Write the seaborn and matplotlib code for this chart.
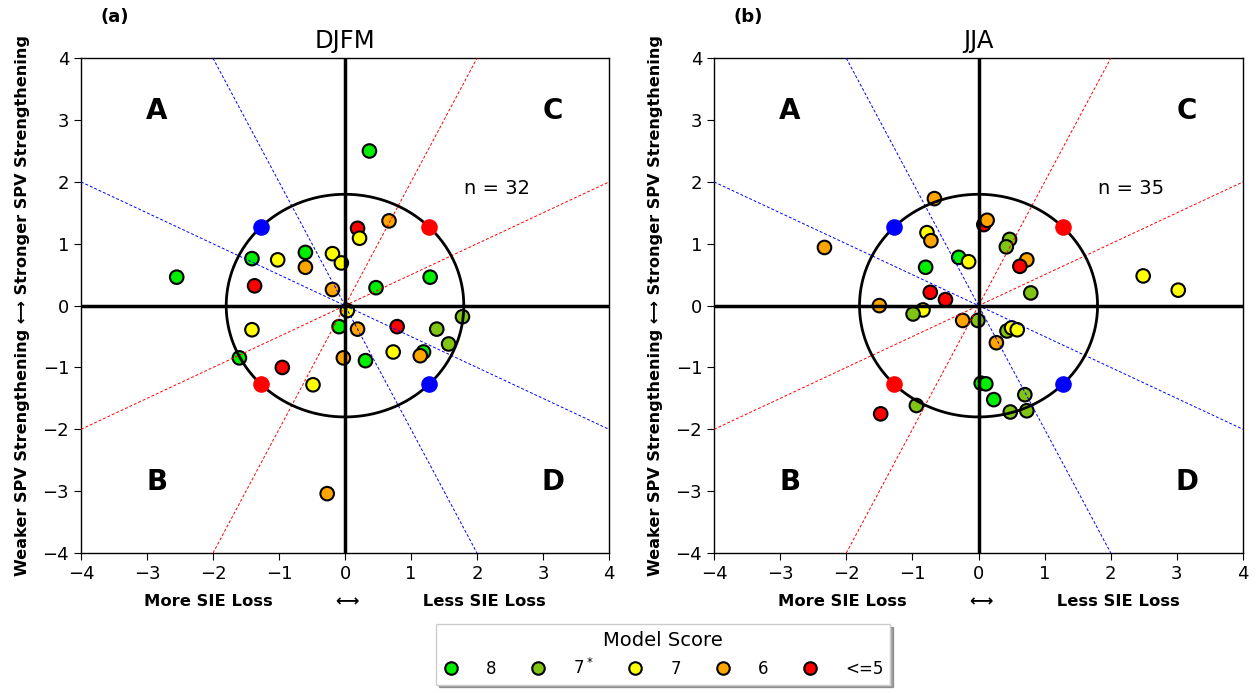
import numpy as np
import pandas as pd
import matplotlib
matplotlib.use("Agg")
import matplotlib.pyplot as plt
from matplotlib.lines import Line2D
import seaborn as sns

# ---------------- data ----------------
djfm_x = [-2.55, -1.41, -1.02, -0.60, -0.60, -0.19, -0.055, -1.37, -0.19, 0.035,
          -1.41, -0.09, 0.19, -1.60, -0.95, -0.025, 0.37, 0.667, 0.19, 0.22,
          1.29, 0.47, 1.78, 0.79, 1.39, 1.57, 0.73, 1.19, 1.14, 0.31,
          -0.485, -0.27]
djfm_y = [0.46, 0.76, 0.74, 0.86, 0.62, 0.84, 0.69, 0.32, 0.26, -0.08,
          -0.39, -0.34, -0.38, -0.845, -1.00, -0.845, 2.50, 1.37, 1.25, 1.09,
          0.46, 0.29, -0.18, -0.34, -0.38, -0.62, -0.75, -0.75, -0.81, -0.89,
          -1.28, -3.04]
djfm_score = ["8", "8", "7", "8", "6", "7", "7", "<=5", "6", "7",
              "7", "8", "6", "8", "<=5", "6", "8", "6", "<=5", "7",
              "8", "8", "7*", "<=5", "7*", "7*", "7", "8", "6", "8",
              "7", "6"]

jja_x = [-0.667, -2.33, -0.78, -0.72, -0.30, -0.15, -0.80, -0.73, -0.50, -1.50,
         -0.84, -0.99, -0.24, -0.01, 0.27, 0.08, 0.13, 0.47, 0.42, 0.73,
         0.625, 0.79, 2.49, 3.02, 0.43, 0.50, 0.585, 0.04, 0.11, 0.23,
         0.70, 0.48, 0.73, -0.94, -1.48]
jja_y = [1.73, 0.94, 1.18, 1.05, 0.78, 0.71, 0.62, 0.215, 0.097, 0.0,
         -0.07, -0.135, -0.24, -0.24, -0.60, 1.31, 1.38, 1.07, 0.95, 0.74,
         0.635, 0.205, 0.48, 0.25, -0.41, -0.36, -0.39, -1.255, -1.265, -1.52,
         -1.44, -1.72, -1.70, -1.615, -1.75]
jja_score = ["6", "6", "7", "6", "8", "7", "8", "<=5", "<=5", "6",
             "7", "7*", "6", "7*", "6", "<=5", "6", "7*", "7*", "6",
             "<=5", "7*", "7", "7", "7*", "7", "7", "8", "8", "8",
             "7*", "7*", "7*", "7*", "<=5"]

score_levels = ["8", "7*", "7", "6", "<=5"]
score_labels = ["8", "7$^*$", "7", "6", "<=5"]
score_colors = ["#00ee00", "#80c414", "#ffff00", "#ffa500", "#ff0000"]

panel_titles = ["DJFM", "JJA"]
panel_tags = ["(a)", "(b)"]
circle_radius = 1.8
blue_slopes = [-2.0, -0.5]
red_slopes = [2.0, 0.5]
quad_letters = ["A", "C", "B", "D"]
ticks = [-4, -3, -2, -1, 0, 1, 2, 3, 4]

# ---------------- plotting ----------------
sns.set_style("ticks")
plt.rcParams["font.family"] = ["DejaVu Sans"]
plt.rcParams["text.color"] = "black"
plt.rcParams["axes.labelcolor"] = "black"
plt.rcParams["xtick.color"] = "black"
plt.rcParams["ytick.color"] = "black"

fig = plt.figure(figsize=(12.58, 6.93), dpi=100)
axes = [fig.add_axes([0.0644, 0.202, 0.4197, 0.714]),
        fig.add_axes([0.5676, 0.202, 0.4205, 0.714])]

palette = dict(zip(score_levels, score_colors))
datasets = [(djfm_x, djfm_y, djfm_score), (jja_x, jja_y, jja_score)]

for ax, (xs, ys, sc), title, tag in zip(axes, datasets, panel_titles, panel_tags):
    df = pd.DataFrame({"x": xs, "y": ys, "score": sc})
    sns.scatterplot(data=df, x="x", y="y", hue="score", palette=palette,
                    hue_order=score_levels, s=95, edgecolor="black",
                    linewidth=1.5, legend=False, ax=ax, zorder=2)
    for s in blue_slopes:
        ax.axline((0, 0), slope=s, color="blue", ls="--", lw=0.7,
                  dashes=(3, 2), zorder=3)
    for s in red_slopes:
        ax.axline((0, 0), slope=s, color="red", ls="--", lw=0.7,
                  dashes=(3, 2), zorder=3)
    ax.axhline(0, color="black", lw=2.5, zorder=4)
    ax.axvline(0, color="black", lw=2.5, zorder=4)
    th = np.linspace(0, 2 * np.pi, 400)
    ax.plot(circle_radius * np.cos(th), circle_radius * np.sin(th),
            color="black", lw=2, zorder=4)
    d = circle_radius / np.sqrt(2)
    ax.scatter([-d, d], [d, -d], s=120, color="blue", zorder=5)
    ax.scatter([d, -d], [d, -d], s=120, color="red", zorder=5)

    ax.set_xlim(-4, 4)
    ax.set_ylim(-4, 4)
    ax.set_xticks(ticks)
    ax.set_yticks(ticks)
    ax.tick_params(labelsize=13, direction="out", length=5)
    for sp in ax.spines.values():
        sp.set_visible(True)
        sp.set_color("black")
        sp.set_linewidth(1.0)
    ax.set_title(title, fontsize=17.5, pad=7)
    ax.set_xlabel("More SIE Loss           \u27f7           Less SIE Loss",
                  fontsize=11.8, fontweight="bold", labelpad=8)
    ax.set_ylabel("Weaker SPV Strengthening \u27f7 Stronger SPV Strengthening",
                  fontsize=11.6, fontweight="bold", labelpad=9)
    ax.text(0.036, 1.065, tag, transform=ax.transAxes, fontsize=13,
            fontweight="bold", ha="left", va="bottom")
    for letter, (qx, qy) in zip(quad_letters, [(-2.85, 3.15), (3.15, 3.15),
                                               (-2.85, -2.85), (3.15, -2.85)]):
        ax.text(qx, qy, letter, fontsize=20, fontweight="bold",
                ha="center", va="center")
    ax.text(2.3, 1.9, f"n = {len(xs)}", fontsize=14, ha="center", va="center")

handles = [Line2D([0], [0], marker="o", ls="", markerfacecolor=c,
                  markeredgecolor="black", markeredgewidth=1.5, markersize=9)
           for c in score_colors]
leg = fig.legend(handles, score_labels, title="Model Score", ncol=5,
                 loc="lower center", bbox_to_anchor=(0.527, 0.0),
                 fontsize=12, title_fontsize=14, frameon=True, shadow=True,
                 fancybox=False, handlelength=1.0, handletextpad=1.6,
                 columnspacing=2.0, borderpad=0.4)
leg.get_frame().set_edgecolor("#cccccc")

fig.savefig("out.png", dpi=100)
